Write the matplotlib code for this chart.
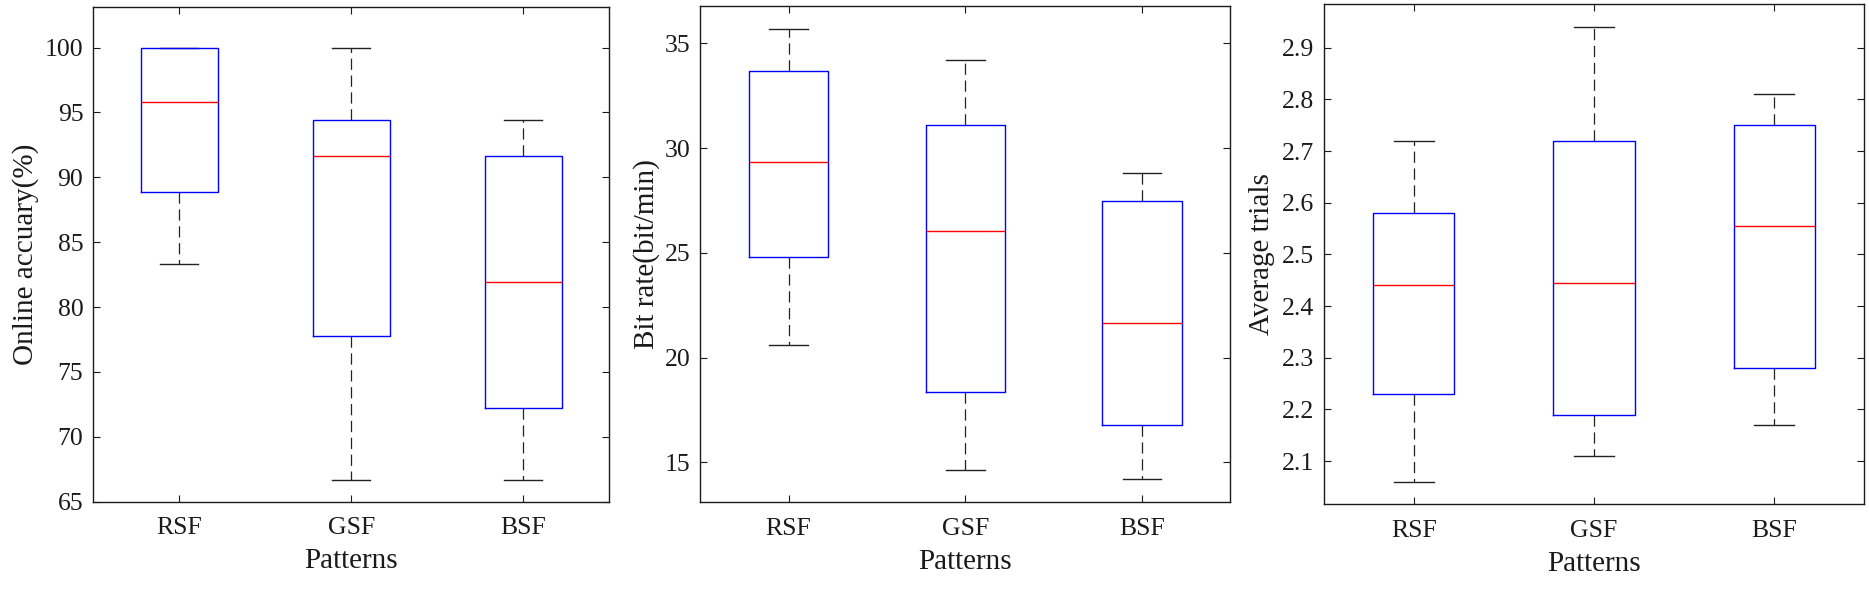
import matplotlib
matplotlib.use("Agg")
import matplotlib.pyplot as plt
import numpy as np

categories = ["RSF", "GSF", "BSF"]

# Online accuracy (%)
acc_low = [83.33, 66.67, 66.67]
acc_q1 = [88.89, 77.78, 72.22]
acc_med = [95.83, 91.67, 81.94]
acc_q3 = [100.0, 94.44, 91.67]
acc_high = [100.0, 100.0, 94.44]

# Bit rate (bit/min)
br_low = [20.6, 14.65, 14.2]
br_q1 = [24.8, 18.35, 16.8]
br_med = [29.35, 26.05, 21.65]
br_q3 = [33.7, 31.1, 27.45]
br_high = [35.7, 34.2, 28.8]

# Average trials
tr_low = [2.06, 2.11, 2.17]
tr_q1 = [2.23, 2.19, 2.28]
tr_med = [2.44, 2.445, 2.555]
tr_q3 = [2.58, 2.72, 2.75]
tr_high = [2.72, 2.94, 2.81]

ylabels = ["Online accuary(%)", "Bit rate(bit/min)", "Average trials"]
xlabel = "Patterns"

plt.rcParams['font.family'] = ['Liberation Serif', 'DejaVu Serif']

fig = plt.figure(figsize=(18.69, 5.89), dpi=100)

positions = [
    [0.04992, 0.14822, 0.27608, 0.83939],
    [0.37469, 0.14771, 0.28357, 0.84261],
    [0.70824, 0.14431, 0.28925, 0.84839],
]
ylims = [(65, 103.1), (13.1, 36.8), (2.017, 2.984)]
yticks = [np.arange(65, 101, 5), np.arange(15, 36, 5), np.arange(2.1, 2.91, 0.1)]
yfmt = ["{:.0f}", "{:.0f}", "{:.1f}"]
ylabelpads = [4.0, 3.5, 5.0]

datasets = [
    (acc_low, acc_q1, acc_med, acc_q3, acc_high),
    (br_low, br_q1, br_med, br_q3, br_high),
    (tr_low, tr_q1, tr_med, tr_q3, tr_high),
]

txt = '#1a1a1a'
for i, (lo, q1, med, q3, hi) in enumerate(datasets):
    ax = fig.add_axes(positions[i])
    stats = []
    for j, c in enumerate(categories):
        stats.append(dict(label=c, whislo=lo[j], q1=q1[j], med=med[j],
                          q3=q3[j], whishi=hi[j], fliers=[]))
    ax.bxp(stats, positions=[1, 2, 3], widths=0.45, showfliers=False,
           boxprops=dict(color='#0000ff', linewidth=1.0, zorder=3),
           medianprops=dict(color='#ff0000', linewidth=1.0, zorder=4),
           whiskerprops=dict(color='#222222', linestyle=(0, (9, 4.5)),
                             linewidth=0.9, zorder=2),
           capprops=dict(color='#222222', linewidth=1.0, zorder=2),
           capwidths=0.22)
    ax.set_xlim(0.5, 3.5)
    ax.set_ylim(*ylims[i])
    ax.set_yticks(yticks[i])
    ax.set_yticklabels([yfmt[i].format(v) for v in yticks[i]])
    ax.set_xticks([1, 2, 3])
    ax.set_xticklabels(categories)
    ax.tick_params(direction='in', length=5, width=0.8, top=True, right=True,
                   labelsize=18.5, colors=txt, pad=7.2)
    ax.tick_params(axis='x', pad=11.2)
    for s in ax.spines.values():
        s.set_linewidth(1.0)
        s.set_color(txt)
    ax.set_ylabel(ylabels[i], fontsize=21, color=txt, labelpad=ylabelpads[i])
    ax.set_xlabel(xlabel, fontsize=21, color=txt, labelpad=6.6)

fig.savefig("out.png", dpi=100)
